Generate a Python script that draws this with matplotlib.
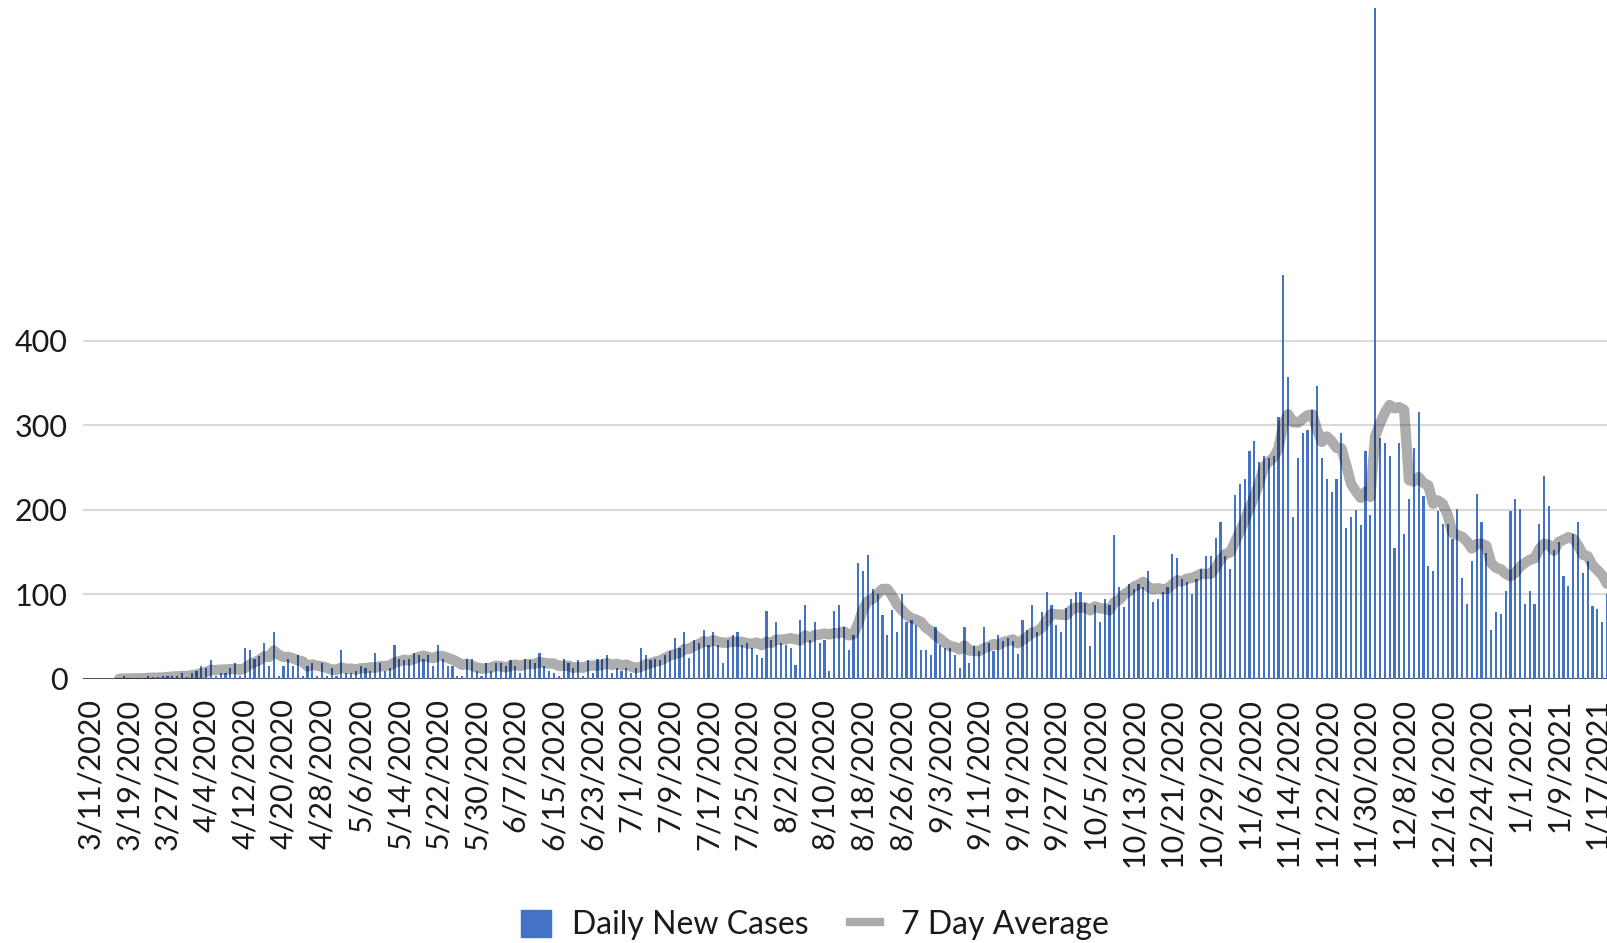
import matplotlib
matplotlib.use("Agg")
import matplotlib.pyplot as plt
from matplotlib.patches import Patch
from matplotlib.lines import Line2D
import numpy as np
import pandas as pd

plt.rcParams['font.family'] = ['Lato', 'DejaVu Sans']

# daily new cases, one value per day starting 3/11/2020
cases = [
    0, 0, 0, 0, 0, 1, 0, 3, 0, 1, 0, 1, 4, 2, 2, 3, 4, 4, 3, 7,
    2, 7, 10, 15, 13, 22, 4, 7, 7, 13, 19, 3, 37, 34, 24, 27, 43, 15, 55, 3,
    15, 24, 15, 28, 4, 15, 19, 4, 19, 3, 13, 3, 34, 7, 7, 10, 15, 13, 10, 31,
    19, 10, 13, 40, 24, 22, 24, 31, 28, 24, 28, 15, 40, 24, 15, 15, 4, 4, 24, 24,
    10, 4, 19, 10, 19, 19, 15, 22, 15, 7, 24, 22, 19, 31, 15, 10, 7, 4, 24, 19,
    13, 22, 4, 22, 7, 24, 24, 28, 7, 13, 10, 13, 7, 13, 37, 28, 22, 24, 22, 28,
    33, 49, 37, 55, 25, 46, 43, 58, 40, 55, 40, 19, 46, 52, 55, 40, 43, 37, 28, 25,
    80, 46, 67, 43, 40, 37, 16, 70, 88, 46, 67, 43, 46, 9, 80, 88, 61, 34, 52, 137,
    128, 146, 106, 100, 76, 52, 82, 55, 100, 67, 70, 64, 34, 34, 28, 61, 40, 37, 37, 28,
    13, 61, 19, 39, 33, 61, 43, 33, 52, 45, 48, 45, 30, 70, 58, 88, 55, 79, 103, 88,
    64, 55, 84, 94, 103, 103, 90, 39, 88, 67, 94, 87, 170, 109, 85, 112, 106, 112, 109, 128,
    91, 94, 103, 109, 148, 143, 118, 115, 100, 118, 130, 145, 145, 167, 185, 145, 130, 218, 230, 236,
    270, 281, 257, 264, 261, 264, 310, 477, 357, 191, 261, 291, 294, 318, 346, 261, 236, 221, 236, 291,
    179, 191, 200, 182, 270, 194, 793, 285, 279, 264, 155, 279, 171, 213, 273, 316, 216, 134, 128, 198,
    183, 183, 165, 201, 119, 89, 140, 219, 186, 149, 58, 79, 77, 104, 198, 213, 201, 89, 104, 89,
    183, 240, 204, 152, 162, 122, 110, 171, 186, 125, 140, 86, 83, 67, 101,
]
dates = pd.date_range("2020-03-11", periods=len(cases), freq="D")
y_ticks = [0, 100, 200, 300, 400]

s = pd.Series(cases, index=dates)
avg7 = s.rolling(7).mean()
idx = np.arange(len(cases))

fig = plt.figure(figsize=(16.08, 9.43), dpi=100)
ax = fig.add_axes([83 / 1608, 264 / 943, 1525 / 1608, 679 / 943])

ax.bar(idx, cases, width=0.45, color="#4472C4", zorder=2)
ax.plot(idx, avg7.values, color="black", alpha=0.32, lw=7.5,
        solid_joinstyle="round", solid_capstyle="round", zorder=3)
ax.axhline(0, color="#404040", lw=2, zorder=1)

ax.set_xlim(-1.49, 314.2)
ax.set_ylim(0, 802.6)
ax.set_yticks(y_ticks)
ax.set_yticklabels([str(v) for v in y_ticks])
ax.yaxis.grid(True, color="#D9D9D9", lw=1.5)
ax.set_axisbelow(True)

tick_pos = idx[::8]
ax.set_xticks(tick_pos)
ax.set_xticklabels([f"{d.month}/{d.day}/{d.year}" for d in dates[::8]],
                   rotation=90, va="top", ha="center")
ax.tick_params(axis="both", length=0, labelsize=22, colors="#1a1a1a")
ax.tick_params(axis="x", pad=14)
ax.tick_params(axis="y", pad=11)
for sp in ax.spines.values():
    sp.set_visible(False)

handles = [Patch(color="#4472C4", label="Daily New Cases"),
           Line2D([0], [0], color="#ABABAB", lw=6, label="7 Day Average")]
fig.legend(handles=handles, loc="center", bbox_to_anchor=(815 / 1608, 1 - 925 / 943),
           ncol=2, frameon=False, fontsize=23, handlelength=0.94, handleheight=0.94,
           handletextpad=0.66, columnspacing=1.3, labelcolor="#1a1a1a")

fig.savefig("out.png", dpi=100)
